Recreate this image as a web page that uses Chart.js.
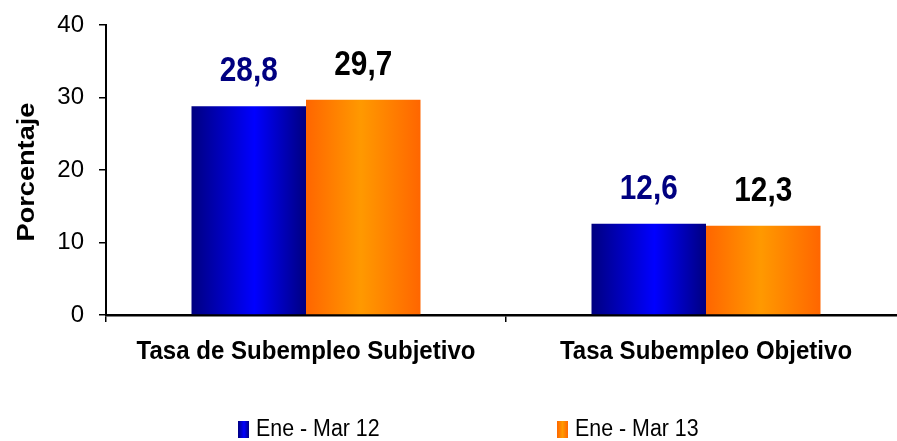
<!DOCTYPE html>
<html>
<head>
<meta charset="utf-8">
<script src="https://cdn.jsdelivr.net/npm/chart.js@4/dist/chart.umd.min.js"></script>
<style>
  html, body { margin: 0; padding: 0; background: #fff; overflow: hidden; width: 897px; height: 441px; }
  #wrap { position: absolute; left: 0; top: 0; width: 910px; height: 441px; }
  .lg { position: absolute; font-family: "Liberation Sans", Arial, sans-serif; font-size: 23px; color: #000; line-height: 1; white-space: nowrap; transform: scaleX(0.93); transform-origin: 0 0; }
  .box { position: absolute; width: 11px; height: 17px; }
</style>
</head>
<body>
<div id="wrap"><canvas id="c" width="910" height="441"></canvas></div>
<div class="box" style="left:238px;top:421px;background:linear-gradient(to right,#000080,#0000ff 55%,#000080);"></div>
<div class="lg" id="l1" style="left:256px;top:417px;">Ene - Mar 12</div>
<div class="box" style="left:557px;top:421px;background:linear-gradient(to right,#ff6600,#ff9900 50%,#ff6600);"></div>
<div class="lg" id="l2" style="left:575px;top:417px;">Ene - Mar 13</div>
<script>
const categories = ["Tasa de Subempleo Subjetivo", "Tasa Subempleo Objetivo"];
const seriesNames = ["Ene - Mar 12", "Ene - Mar 13"];
const valuesMar12 = [28.8, 12.6];
const valuesMar13 = [29.7, 12.3];
const yTicks = [0, 10, 20, 30, 40];

const CAT_PCT = 0.5725;
const FONT = '"Liberation Sans", Arial, sans-serif';
const gradStops = [
  ["#000080", "#0000ff", "#000080"],
  ["#ff6600", "#ff9900", "#ff6600"]
];
const gradMid = [0.55, 0.48];

function barFill(ctx) {
  const chart = ctx.chart;
  const xs = chart.scales.x;
  if (!chart.chartArea || !xs) return gradStops[ctx.datasetIndex][1];
  const catW = xs.width / categories.length;
  const group = catW * CAT_PCT;
  const bw = group / 2;
  const center = xs.getPixelForValue(ctx.dataIndex);
  const left = center - group / 2 + ctx.datasetIndex * bw;
  const g = chart.ctx.createLinearGradient(left, 0, left + bw, 0);
  const s = gradStops[ctx.datasetIndex];
  g.addColorStop(0, s[0]);
  g.addColorStop(gradMid[ctx.datasetIndex], s[1]);
  g.addColorStop(1, s[2]);
  return g;
}

const labelColors = ["#000080", "#000000"];
const valueLabels = {
  id: 'valueLabels',
  afterDatasetsDraw(chart) {
    const c = chart.ctx;
    chart.data.datasets.forEach((ds, di) => {
      const meta = chart.getDatasetMeta(di);
      meta.data.forEach((el, i) => {
        const txt = ds.data[i].toFixed(1).replace('.', ',');
        c.save();
        c.translate(el.x, el.y - 25);
        c.scale(0.85, 1);
        c.font = 'bold 35px ' + FONT;
        c.fillStyle = labelColors[di];
        c.textAlign = 'center';
        c.textBaseline = 'alphabetic';
        c.fillText(txt, 0, 0);
        c.restore();
      });
    });
  }
};

const catLabels = {
  id: 'catLabels',
  afterDraw(chart) {
    const c = chart.ctx;
    const xs = chart.scales.x;
    chart.data.labels.forEach((lab, i) => {
      c.save();
      c.translate(xs.getPixelForValue(i), 359);
      c.scale(0.925, 1);
      c.font = 'bold 26px ' + FONT;
      c.fillStyle = '#000';
      c.textAlign = 'center';
      c.textBaseline = 'alphabetic';
      c.fillText(lab, 0, 0);
      c.restore();
    });
  }
};

const yTitle = {
  id: 'yTitle',
  afterDraw(chart) {
    const c = chart.ctx;
    c.save();
    c.translate(28, 172);
    c.rotate(-Math.PI / 2);
    c.scale(1.18, 1);
    c.font = 'bold 23px ' + FONT;
    c.fillStyle = '#000';
    c.textAlign = 'center';
    c.textBaseline = 'middle';
    c.fillText('Porcentaje', 0, 0);
    c.restore();
  }
};

new Chart(document.getElementById('c'), {
  type: 'bar',
  data: {
    labels: categories,
    datasets: [
      { label: seriesNames[0], data: valuesMar12, backgroundColor: barFill, borderWidth: 0 },
      { label: seriesNames[1], data: valuesMar13, backgroundColor: barFill, borderWidth: 0 }
    ]
  },
  options: {
    responsive: false,
    animation: false,
    events: [],
    layout: { padding: { top: 25, right: 4, left: 0, bottom: 0 } },
    datasets: { bar: { categoryPercentage: CAT_PCT, barPercentage: 1.0 } },
    plugins: { legend: { display: false }, tooltip: { enabled: false } },
    scales: {
      x: {
        grid: { offset: true, drawOnChartArea: false, drawTicks: true, tickLength: 7, color: '#000', lineWidth: 1.5 },
        border: { color: '#000', width: 2.5 },
        ticks: { display: false },
        afterFit(scale) { scale.height = 126; scale.paddingLeft = 0; scale.paddingRight = 0; }
      },
      y: {
        min: 0, max: 40,
        afterBuildTicks(scale) { scale.ticks = yTicks.map(v => ({ value: v })); },
        grid: { drawOnChartArea: false, drawTicks: true, tickLength: 7, color: '#000', lineWidth: 1.5 },
        border: { color: '#000', width: 2 },
        ticks: { color: '#000', font: { family: FONT, size: 24 }, padding: 15 },
        afterFit(scale) { scale.width = 106; scale.paddingTop = 12; scale.paddingBottom = 0; }
      }
    }
  },
  plugins: [valueLabels, catLabels, yTitle]
});
</script>
</body>
</html>
